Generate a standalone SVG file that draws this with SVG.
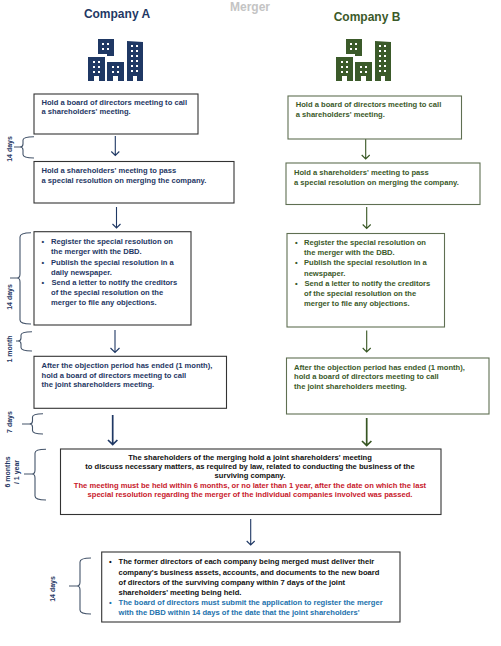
<svg xmlns="http://www.w3.org/2000/svg" width="501" height="646" viewBox="0 0 501 646">
<style>
text{font-family:"Liberation Sans",Arial,sans-serif;font-weight:700;font-size:7.6px}
.a{fill:#1f3864}.b{fill:#3b5a2a}.k{fill:#111}.r{fill:#c8202c}.u{fill:#2272ad}
.m{text-anchor:middle}
.box{fill:#fff;stroke-width:1.1}
.ba{stroke:#333}.bb{stroke:#5f6f52}
.con{fill:none;stroke-width:1.1}
.sa{stroke:#1f3864}.sb{stroke:#375623}.sg{stroke:#44546a}
.thick{stroke-width:1.7}
.h{font-size:12px}
.d{font-size:7px}
</style>
<defs>
<g id="windows2"><rect x="0" y="0" width="2" height="2"/><rect x="5" y="0" width="2" height="2"/></g>
<g id="icon">
<path d="M0,18H17V42H11V37H6V42H0Z"/>
<path d="M10,0H26V17H19V15H10Z"/>
<path d="M19,23H36V42H30V37H25V42H19Z"/>
<path d="M39,2L55,3V42H49V37H45V42H39Z"/>
<g fill="#fff">
<use href="#windows2" x="5" y="22"/><use href="#windows2" x="5" y="27"/><use href="#windows2" x="5" y="32"/>
<use href="#windows2" x="14" y="4"/><use href="#windows2" x="14" y="9"/>
<use href="#windows2" x="24" y="27"/><use href="#windows2" x="24" y="32"/>
<use href="#windows2" x="43" y="6"/><use href="#windows2" x="43" y="11"/><use href="#windows2" x="43" y="16"/><use href="#windows2" x="43" y="21"/><use href="#windows2" x="43" y="26"/><use href="#windows2" x="43" y="31"/>
</g>
</g>
</defs>

<g id="title"><text x="250" y="11" class="m" style="font-size:12px" fill="#c4c4c4">Merger</text></g>
<g id="company-a"><text x="117" y="18" class="m h a">Company A</text><use href="#icon" x="88" y="39" class="a"/></g>
<g id="company-b"><text x="367" y="21" class="m h b">Company B</text><use href="#icon" x="336" y="39" class="b"/></g>

<g id="connectors">
<g class="con sa">
<path d="M115.3,136V155.5M111.3,151.5L115.3,155.5L119.3,151.5"/>
<path d="M116.5,207V228M112.5,224L116.5,228L120.5,224"/>
<path d="M115,330V352.500M110.500,348L115,352.500L119.500,348"/>
<path class="thick" d="M112.7,415V444.500M108,440L112.7,444.500L117.4,440"/>
<path d="M250.7,519V545M246.7,541L250.7,545L254.7,541"/>
</g>
<g class="con sb">
<path d="M365.7,138V159M361.7,155L365.7,159L369.7,155"/>
<path d="M366.7,207V228.500M362.7,224.500L366.7,228.500L370.7,224.500"/>
<path d="M366.7,330.500V352M362.7,348L366.7,352L370.7,348"/>
<path class="thick" d="M366.7,418V445.500M362,441L366.7,445.500L371.4,441"/>
</g>
<g class="con sg">
<path d="M34,136.700Q23,136.700 23,140V144Q23,147 20,147H14M20,147Q23,147 23,150V154.500Q23,158 34,158"/>
<path d="M31,232.700Q20,232.700 20,237V274Q20,278 17,278H10M17,278Q20,278 20,282V320Q20,324 31,324"/>
<path d="M32,331.700Q21,331.700 21,335V338Q21,341 18,341H16M18,341Q21,341 21,344V347.500Q21,351 32,351"/>
<path d="M43,413.700Q32.500,413.700 32.500,417V421Q32.500,424 29.500,424H22M29.500,424Q32.500,424 32.500,427V430.500Q32.500,434 43,434"/>
<path d="M46,449.300Q35,449.300 35,453V470Q35,474 32,474H24M32,474Q35,474 35,478V496Q35,500 46,500"/>
<path d="M91,558Q80,558 80,562V582Q80,586 77,586H69M77,586Q80,586 80,590V610Q80,614 91,614"/>
</g>
</g>

<g id="durations">
<text transform="translate(11.500,149) rotate(-90)" class="m a d">14 days</text>
<text transform="translate(11.500,297) rotate(-90)" class="m a d">14 days</text>
<text transform="translate(11.500,349) rotate(-90)" class="m a d">1 month</text>
<text transform="translate(12,422) rotate(-90)" class="m a d">7 days</text>
<text transform="translate(9.500,472) rotate(-90)" class="m a d">6 months</text>
<text transform="translate(18.500,472) rotate(-90)" class="m a d">/ 1 year</text>
<text transform="translate(55,589) rotate(-90)" class="m a d">14 days</text>
</g>

<g id="a1"><rect class="box ba" x="34" y="94" width="164" height="40"/><text class="a" x="41.500" y="104.500">Hold a board of directors meeting to call</text><text class="a" x="41.500" y="114">a shareholders' meeting.</text></g>
<g id="a2"><rect class="box ba" x="34" y="161.500" width="200" height="41.500"/><text class="a" x="41.500" y="172.500">Hold a shareholders' meeting to pass</text><text class="a" x="41.500" y="183">a special resolution on merging the company.</text></g>
<g id="a3"><rect class="box ba" x="34" y="231.700" width="157" height="93.300"/>
<text class="a" x="41.500" y="243.500">•</text><text class="a" x="51" y="243.500">Register the special resolution on</text><text class="a" x="51" y="254">the merger with the DBD.</text>
<text class="a" x="41.500" y="264.500">•</text><text class="a" x="51" y="264.500">Publish the special resolution in a</text><text class="a" x="51" y="274.500">daily newspaper.</text>
<text class="a" x="41.500" y="285">•</text><text class="a" x="51.500" y="285">Send a letter to notify the creditors</text><text class="a" x="51" y="295">of the special resolution on the</text><text class="a" x="51" y="305">merger to file any objections.</text></g>
<g id="a4"><rect class="box ba" x="34" y="356.300" width="192.500" height="52"/><text class="a" x="41.500" y="368">After the objection period has ended (1 month),</text><text class="a" x="41.500" y="377.500">hold a board of directors meeting to call</text><text class="a" x="41.500" y="387">the joint shareholders meeting.</text></g>

<g id="b1"><rect class="box bb" x="288" y="96" width="173.500" height="43"/><text class="b" x="295.700" y="107">Hold a board of directors meeting to call</text><text class="b" x="295.700" y="117">a shareholders' meeting.</text></g>
<g id="b2"><rect class="box bb" x="286" y="163" width="194" height="41.500"/><text class="b" x="294" y="174.500">Hold a shareholders' meeting to pass</text><text class="b" x="294" y="184.500">a special resolution on merging the company.</text></g>
<g id="b3"><rect class="box bb" x="287" y="233.500" width="157.500" height="93.500"/>
<text class="b" x="295" y="244.500">•</text><text class="b" x="304" y="244.500">Register the special resolution on</text><text class="b" x="304" y="255">the merger with the DBD.</text>
<text class="b" x="295" y="265">•</text><text class="b" x="304" y="265">Publish the special resolution in a</text><text class="b" x="304" y="275.500">newspaper.</text>
<text class="b" x="295" y="286">•</text><text class="b" x="304.500" y="286">Send a letter to notify the creditors</text><text class="b" x="304" y="296">of the special resolution on the</text><text class="b" x="304" y="306">merger to file any objections.</text></g>
<g id="b4"><rect class="box bb" x="286.500" y="358" width="202.500" height="56"/><text class="b" x="294" y="370">After the objection period has ended (1 month),</text><text class="b" x="294" y="379">hold a board of directors meeting to call</text><text class="b" x="294" y="389">the joint shareholders meeting.</text></g>

<g id="c"><rect class="box ba" x="60.500" y="449" width="380.500" height="65.500"/>
<text class="m k" x="250" y="459.500">The shareholders of the merging hold a joint shareholders' meeting</text>
<text class="m k" x="250" y="468.500">to discuss necessary matters, as required by law, related to conducting the business of the</text>
<text class="m k" x="250" y="478">surviving company.</text>
<text class="m r" x="250" y="487.500">The meeting must be held within 6 months, or no later than 1 year, after the date on which the last</text>
<text class="m r" x="250" y="497">special resolution regarding the merger of the individual companies involved was passed.</text></g>

<g id="d"><rect class="box ba" x="101.700" y="552" width="298.300" height="70"/>
<text class="k" x="109" y="564">•</text><text class="k" x="118.500" y="564">The former directors of each company being merged must deliver their</text>
<text class="k" x="118.500" y="574.500">company's business assets, accounts, and documents to the new board</text>
<text class="k" x="118.500" y="585">of directors of the surviving company within 7 days of the joint</text>
<text class="k" x="118.500" y="594.500">shareholders' meeting being held.</text>
<text class="u" x="109" y="605">•</text><text class="u" x="118.500" y="605">The board of directors must submit the application to register the merger</text>
<text class="u" x="118.500" y="615">with the DBD within 14 days of the date that the joint shareholders'</text></g>
</svg>
